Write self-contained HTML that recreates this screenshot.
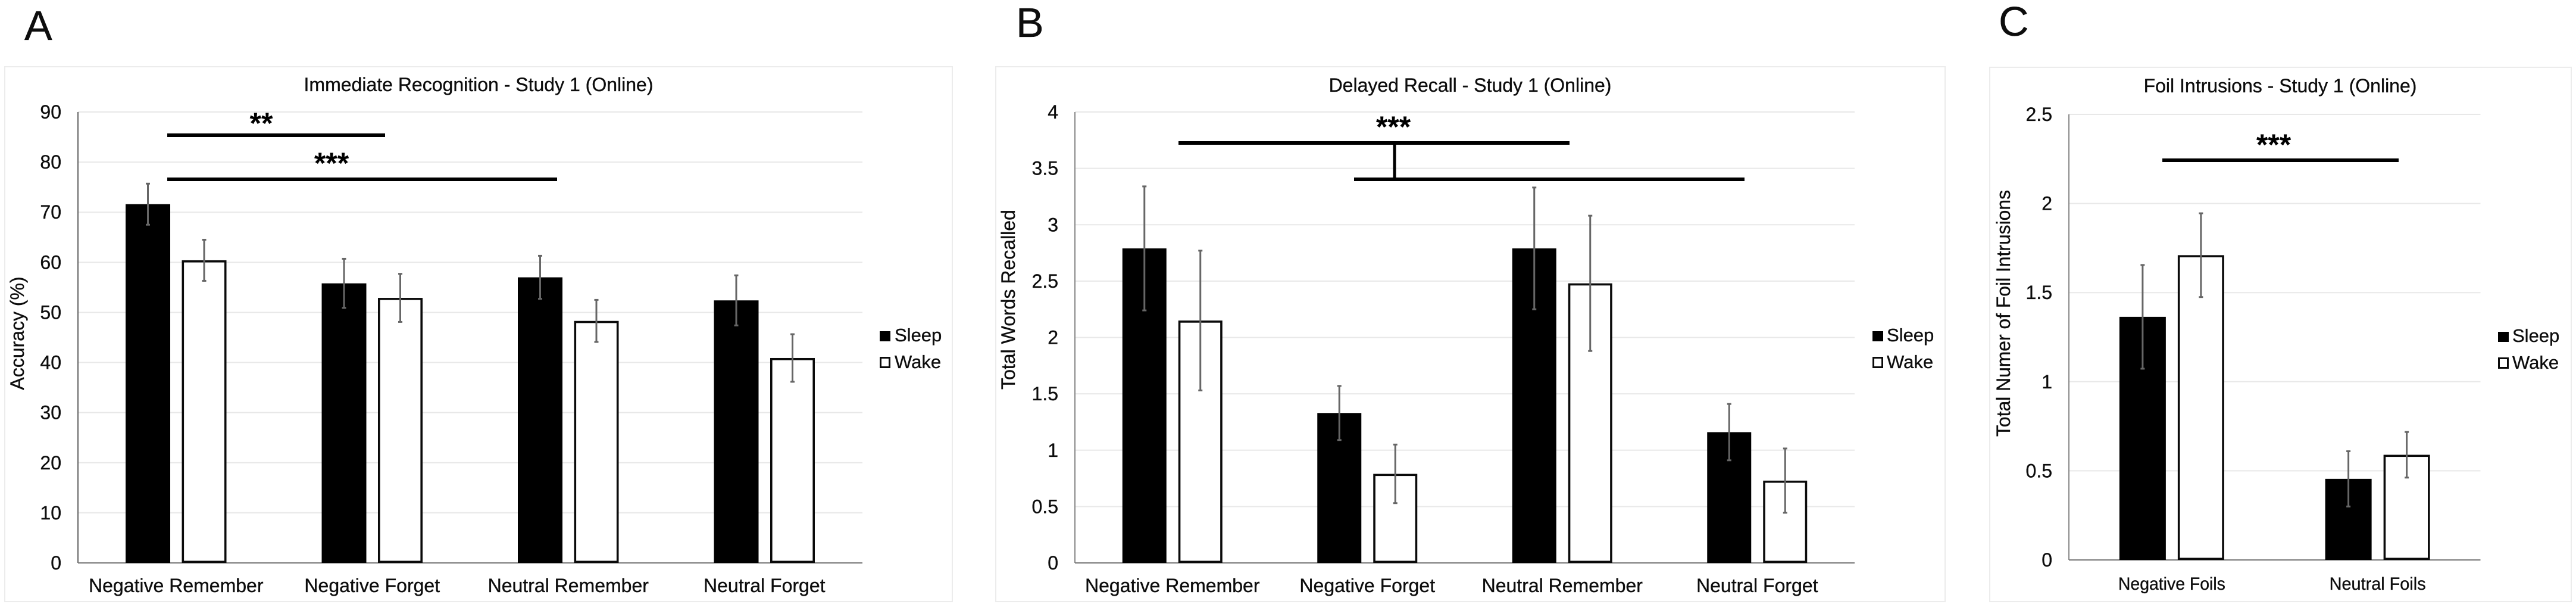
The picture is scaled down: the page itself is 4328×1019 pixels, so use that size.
<!DOCTYPE html>
<html lang="en">
<head>
<meta charset="utf-8">
<title>Study 1 (Online) - Sleep and Wake Memory Charts</title>
<style>
  html, body { margin: 0; padding: 0; background: #ffffff; }
  body { width: 4328px; height: 1019px; overflow: hidden; }
  svg { display: block; }
  text { font-family: "Liberation Sans", sans-serif; fill: #0d0d0d; stroke: #0d0d0d; stroke-width: 0.35px; }
</style>
</head>
<body>
<svg id="figure" xmlns="http://www.w3.org/2000/svg" width="4328" height="1019" viewBox="0 0 4328 1019">
  <rect x="0" y="0" width="4328" height="1019" fill="#ffffff"/>

  <text x="41" y="67" font-size="70">A</text>
  <text x="1707" y="62" font-size="70">B</text>
  <text x="3358" y="60" font-size="70">C</text>

  <g id="panel-a">
    <rect x="8" y="112" width="1592" height="898" fill="#ffffff" stroke="#ececec" stroke-width="2"/>
    <text x="804" y="153" font-size="32" text-anchor="middle">Immediate Recognition - Study 1 (Online)</text>
    <text transform="translate(40 559.5) rotate(-90)" font-size="32" text-anchor="middle">Accuracy (%)</text>
  </g>
  <g id="panel-b">
    <rect x="1673" y="112" width="1595" height="898" fill="#ffffff" stroke="#ececec" stroke-width="2"/>
    <text x="2470" y="154" font-size="32" text-anchor="middle">Delayed Recall - Study 1 (Online)</text>
    <text transform="translate(1705 503) rotate(-90)" font-size="32" text-anchor="middle">Total Words Recalled</text>
  </g>
  <g id="panel-c">
    <rect x="3343" y="113" width="977" height="897" fill="#ffffff" stroke="#ececec" stroke-width="2"/>
    <text x="3831" y="155" font-size="32" text-anchor="middle">Foil Intrusions - Study 1 (Online)</text>
    <text transform="translate(3377 526) rotate(-90)" font-size="32" text-anchor="middle" textLength="414" lengthAdjust="spacingAndGlyphs">Total Numer of Foil Intrusions</text>
  </g>
</svg>

<script>
// ----- Chart A: Immediate Recognition -----
const categoriesA = ['Negative Remember', 'Negative Forget', 'Neutral Remember', 'Neutral Forget'];
const sleepValuesA = [71.6, 55.8, 57.0, 52.4];
const wakeValuesA = [60.4, 52.9, 48.3, 40.9];
const sleepErrorsA = [4.1, 4.9, 4.3, 5.0];
const wakeErrorsA = [4.1, 4.8, 4.2, 4.75];
const tickLabelsA = ['0', '10', '20', '30', '40', '50', '60', '70', '80', '90'];

// ----- Chart B: Delayed Recall -----
const categoriesB = ['Negative Remember', 'Negative Forget', 'Neutral Remember', 'Neutral Forget'];
const sleepValuesB = [2.79, 1.33, 2.79, 1.16];
const wakeValuesB = [2.15, 0.79, 2.48, 0.73];
const sleepErrorsB = [0.55, 0.24, 0.54, 0.25];
const wakeErrorsB = [0.62, 0.26, 0.6, 0.285];
const tickLabelsB = ['0', '0.5', '1', '1.5', '2', '2.5', '3', '3.5', '4'];

// ----- Chart C: Foil Intrusions -----
const categoriesC = ['Negative Foils', 'Neutral Foils'];
const sleepValuesC = [1.364, 0.455];
const wakeValuesC = [1.71, 0.59];
const sleepErrorsC = [0.291, 0.155];
const wakeErrorsC = [0.235, 0.128];
const tickLabelsC = ['0', '0.5', '1', '1.5', '2', '2.5'];

const SVG_NS = 'http://www.w3.org/2000/svg';

function svgEl(parent, tag, props) {
  const el = document.createElementNS(SVG_NS, tag);
  for (const key in props) {
    el.setAttribute(key, props[key]);
  }
  parent.appendChild(el);
  return el;
}

function drawChart(layout, categories, sleepValues, wakeValues, sleepErrors, wakeErrors, tickLabels) {
  const root = document.getElementById(layout.id);
  const maxValue = Number(tickLabels[tickLabels.length - 1]);
  const yScale = function (value) {
    return layout.bottom - (value / maxValue) * (layout.bottom - layout.top);
  };
  const bandCenter = function (index) {
    return layout.left + (index + 0.5) * (layout.right - layout.left) / categories.length;
  };

  tickLabels.forEach(function (label) {
    const y = yScale(Number(label));
    if (Number(label) !== 0) {
      const grid = svgEl(root, 'line', { x1: layout.left, x2: layout.right, y1: y, y2: y, stroke: '#e8e8e8', 'stroke-width': 2 });
      
      
    }
    const tick = svgEl(root, 'text', { x: layout.tickRight, y: y + 11, 'font-size': 32, 'text-anchor': 'end' });
    
    
    tick.textContent = label;
  });

  const yAxis = svgEl(root, 'line', { x1: layout.left, x2: layout.left, y1: layout.top, y2: layout.bottom, stroke: layout.axisColor, 'stroke-width': 2 });
  
  

  const xAxis = svgEl(root, 'line', { x1: layout.left, x2: layout.right, y1: layout.bottom, y2: layout.bottom, stroke: '#777777', 'stroke-width': 2 });
  
  

  categories.forEach(function (category, i) {
    const center = bandCenter(i);
    const sleepX = center - layout.spacing / 2;
    const wakeX = center + layout.spacing / 2;

    const sleepBar = svgEl(root, 'rect', { x: sleepX - layout.barWidth / 2, y: yScale(sleepValues[i]), width: layout.barWidth, height: layout.bottom - yScale(sleepValues[i]), fill: '#000000' });
    
    

    const stroke = 3.6;
    const wakeBar = svgEl(root, 'rect', { x: wakeX - layout.barWidth / 2 + stroke / 2, y: yScale(wakeValues[i]) + stroke / 2, width: layout.barWidth - stroke, height: layout.bottom - yScale(wakeValues[i]) - stroke, fill: '#ffffff', stroke: '#0a0a0a', 'stroke-width': stroke });
    
    

    [[sleepX, sleepValues[i], sleepErrors[i]], [wakeX, wakeValues[i], wakeErrors[i]]].forEach(function (entry) {
      const x = entry[0];
      const high = yScale(entry[1] + entry[2]);
      const low = yScale(entry[1] - entry[2]);
      const stem = svgEl(root, 'line', { x1: x, x2: x, y1: high, y2: low, stroke: '#666666', 'stroke-width': 3 });
      
      
      const capHigh = svgEl(root, 'line', { x1: x - 3.5, x2: x + 3.5, y1: high, y2: high, stroke: '#666666', 'stroke-width': 3 });
      
      
      const capLow = svgEl(root, 'line', { x1: x - 3.5, x2: x + 3.5, y1: low, y2: low, stroke: '#666666', 'stroke-width': 3 });
      
      
    });

    const labelProps = { x: center, y: layout.labelY, 'font-size': layout.labelSize, 'text-anchor': 'middle' };
    if (layout.labelWidths) {
      labelProps.textLength = layout.labelWidths[i];
      labelProps.lengthAdjust = 'spacingAndGlyphs';
    }
    const label = svgEl(root, 'text', labelProps);
    
    
    label.textContent = category;
  });

  const sleepSwatch = svgEl(root, 'rect', { x: layout.legendX, y: layout.sleepY - 17, width: layout.swatch, height: 17, fill: '#000000' });
  
  
  const sleepText = svgEl(root, 'text', { x: layout.legendTextX, y: layout.sleepY, 'font-size': 31 });
  
  
  sleepText.textContent = 'Sleep';

  const wakeSwatch = svgEl(root, 'rect', { x: layout.legendX + 1.5, y: layout.wakeY - 17.5, width: layout.swatch - 3, height: 16, fill: '#ffffff', stroke: '#0a0a0a', 'stroke-width': 3 });
  
  
  const wakeText = svgEl(root, 'text', { x: layout.legendTextX, y: layout.wakeY, 'font-size': 31 });
  
  
  wakeText.textContent = 'Wake';
}

function drawBracket(panelId, x1, x2, y) {
  const line = svgEl(document.getElementById(panelId), 'rect', { x: x1, y: y - 3, width: x2 - x1, height: 6, fill: '#000000' });
  
  
}

function drawStars(panelId, stars, x, y) {
  const mark = svgEl(document.getElementById(panelId), 'text', { x: x, y: y, 'font-size': 50, 'font-weight': 'bold', 'text-anchor': 'middle', style: 'fill:#000000;stroke:none' });
  
  
  mark.textContent = stars;
}

drawChart({ id: 'panel-a', left: 131, right: 1449, top: 188, bottom: 945, tickRight: 103, axisColor: '#666666', barWidth: 75, spacing: 94.5, labelY: 994, labelSize: 32, legendX: 1478, legendTextX: 1503, sleepY: 573, wakeY: 618, swatch: 18 },
  categoriesA, sleepValuesA, wakeValuesA, sleepErrorsA, wakeErrorsA, tickLabelsA);
drawChart({ id: 'panel-b', left: 1806, right: 3116, top: 188, bottom: 945, tickRight: 1778, axisColor: '#8a8a8a', barWidth: 74, spacing: 94, labelY: 994, labelSize: 32, legendX: 3146, legendTextX: 3170, sleepY: 573, wakeY: 618, swatch: 18 },
  categoriesB, sleepValuesB, wakeValuesB, sleepErrorsB, wakeErrorsB, tickLabelsB);
drawChart({ id: 'panel-c', left: 3476, right: 4167.5, top: 192, bottom: 940, tickRight: 3448, axisColor: '#8a8a8a', barWidth: 78, spacing: 98, labelY: 990, labelSize: 30, labelWidths: [180, 162], legendX: 4197, legendTextX: 4221, sleepY: 574, wakeY: 619, swatch: 18 },
  categoriesC, sleepValuesC, wakeValuesC, sleepErrorsC, wakeErrorsC, tickLabelsC);

drawBracket('panel-a', 281, 647, 227);
drawBracket('panel-a', 281, 936, 301);
drawStars('panel-a', '**', 439, 224);
drawStars('panel-a', '***', 557, 291);

drawBracket('panel-b', 1980, 2637, 240);
drawBracket('panel-b', 2275, 2931, 301);
drawStars('panel-b', '***', 2341, 230);
const bracketStem = svgEl(document.getElementById('panel-b'), 'rect', { x: 2340.5, y: 240, width: 5, height: 61, fill: '#000000' });



drawBracket('panel-c', 3633, 4030, 269);
drawStars('panel-c', '***', 3820, 260);
</script>
</body>
</html>
